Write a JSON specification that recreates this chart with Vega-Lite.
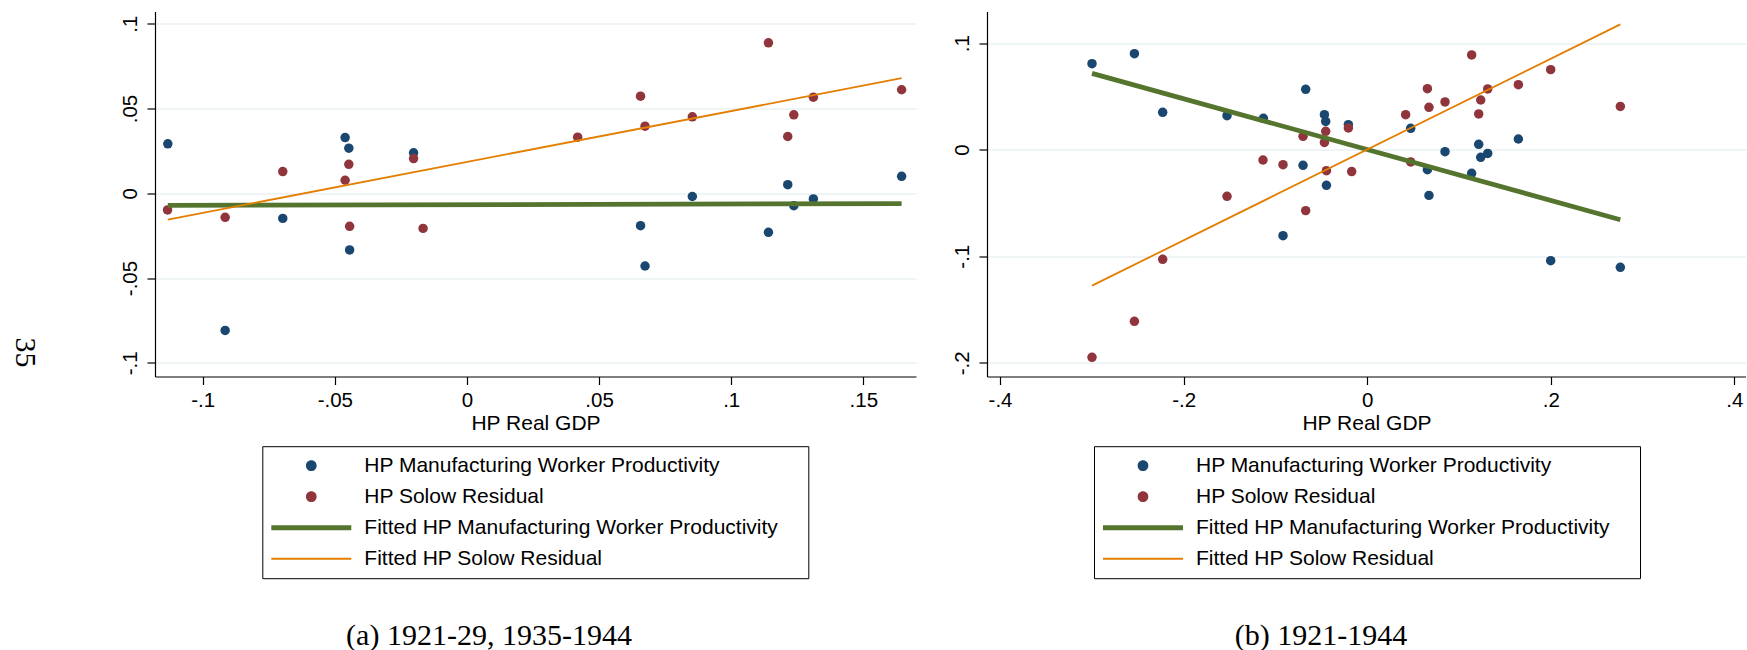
{
  "$schema": "https://vega.github.io/schema/vega-lite/v6.json",
  "background": "white",
  "padding": {"left": 9, "top": 11.5, "right": 0, "bottom": 0},
  "autosize": {"type": "pad"},
  "datasets": {
    "a_pts": [
      {"series": "HP Manufacturing Worker Productivity", "x": -0.1132, "y": 0.0292},
      {"series": "HP Manufacturing Worker Productivity", "x": -0.0915, "y": -0.0809},
      {"series": "HP Manufacturing Worker Productivity", "x": -0.0697, "y": -0.0148},
      {"series": "HP Manufacturing Worker Productivity", "x": -0.0461, "y": 0.0329},
      {"series": "HP Manufacturing Worker Productivity", "x": -0.0447, "y": 0.0266},
      {"series": "HP Manufacturing Worker Productivity", "x": -0.0444, "y": -0.0334},
      {"series": "HP Manufacturing Worker Productivity", "x": -0.0202, "y": 0.0239},
      {"series": "HP Manufacturing Worker Productivity", "x": 0.0657, "y": -0.0191},
      {"series": "HP Manufacturing Worker Productivity", "x": 0.0674, "y": -0.0429},
      {"series": "HP Manufacturing Worker Productivity", "x": 0.0853, "y": -0.0019},
      {"series": "HP Manufacturing Worker Productivity", "x": 0.1141, "y": -0.0230},
      {"series": "HP Manufacturing Worker Productivity", "x": 0.1214, "y": 0.0051},
      {"series": "HP Manufacturing Worker Productivity", "x": 0.1237, "y": -0.0073},
      {"series": "HP Manufacturing Worker Productivity", "x": 0.1311, "y": -0.0033},
      {"series": "HP Manufacturing Worker Productivity", "x": 0.1645, "y": 0.0100},
      {"series": "HP Solow Residual", "x": -0.1133, "y": -0.0098},
      {"series": "HP Solow Residual", "x": -0.0915, "y": -0.0142},
      {"series": "HP Solow Residual", "x": -0.0697, "y": 0.0128},
      {"series": "HP Solow Residual", "x": -0.0461, "y": 0.0077},
      {"series": "HP Solow Residual", "x": -0.0447, "y": 0.0171},
      {"series": "HP Solow Residual", "x": -0.0444, "y": -0.0195},
      {"series": "HP Solow Residual", "x": -0.0202, "y": 0.0205},
      {"series": "HP Solow Residual", "x": -0.0166, "y": -0.0207},
      {"series": "HP Solow Residual", "x": 0.0419, "y": 0.0331},
      {"series": "HP Solow Residual", "x": 0.0657, "y": 0.0573},
      {"series": "HP Solow Residual", "x": 0.0674, "y": 0.0396},
      {"series": "HP Solow Residual", "x": 0.0853, "y": 0.0451},
      {"series": "HP Solow Residual", "x": 0.1141, "y": 0.0888},
      {"series": "HP Solow Residual", "x": 0.1214, "y": 0.0335},
      {"series": "HP Solow Residual", "x": 0.1237, "y": 0.0463},
      {"series": "HP Solow Residual", "x": 0.1311, "y": 0.0567},
      {"series": "HP Solow Residual", "x": 0.1645, "y": 0.0611}
    ],
    "a_fit": [
      {"series": "Fitted HP Manufacturing Worker Productivity", "x": -0.1132, "y": -0.0071},
      {"series": "Fitted HP Manufacturing Worker Productivity", "x": 0.1645, "y": -0.0061},
      {"series": "Fitted HP Solow Residual", "x": -0.1132, "y": -0.0155},
      {"series": "Fitted HP Solow Residual", "x": 0.1645, "y": 0.0679}
    ],
    "b_pts": [
      {"series": "HP Manufacturing Worker Productivity", "x": -0.2998, "y": 0.0807},
      {"series": "HP Manufacturing Worker Productivity", "x": -0.2536, "y": 0.0901},
      {"series": "HP Manufacturing Worker Productivity", "x": -0.2228, "y": 0.0350},
      {"series": "HP Manufacturing Worker Productivity", "x": -0.1527, "y": 0.0319},
      {"series": "HP Manufacturing Worker Productivity", "x": -0.1131, "y": 0.0294},
      {"series": "HP Manufacturing Worker Productivity", "x": -0.0917, "y": -0.0807},
      {"series": "HP Manufacturing Worker Productivity", "x": -0.0699, "y": -0.0147},
      {"series": "HP Manufacturing Worker Productivity", "x": -0.0670, "y": 0.0566},
      {"series": "HP Manufacturing Worker Productivity", "x": -0.0466, "y": 0.0328},
      {"series": "HP Manufacturing Worker Productivity", "x": -0.0452, "y": 0.0265},
      {"series": "HP Manufacturing Worker Productivity", "x": -0.0444, "y": -0.0335},
      {"series": "HP Manufacturing Worker Productivity", "x": -0.0205, "y": 0.0235},
      {"series": "HP Manufacturing Worker Productivity", "x": 0.0474, "y": 0.0200},
      {"series": "HP Manufacturing Worker Productivity", "x": 0.0656, "y": -0.0188},
      {"series": "HP Manufacturing Worker Productivity", "x": 0.0673, "y": -0.0429},
      {"series": "HP Manufacturing Worker Productivity", "x": 0.0848, "y": -0.0019},
      {"series": "HP Manufacturing Worker Productivity", "x": 0.1138, "y": -0.0222},
      {"series": "HP Manufacturing Worker Productivity", "x": 0.1215, "y": 0.0050},
      {"series": "HP Manufacturing Worker Productivity", "x": 0.1237, "y": -0.0072},
      {"series": "HP Manufacturing Worker Productivity", "x": 0.1313, "y": -0.0035},
      {"series": "HP Manufacturing Worker Productivity", "x": 0.1647, "y": 0.0100},
      {"series": "HP Manufacturing Worker Productivity", "x": 0.1999, "y": -0.1042},
      {"series": "HP Manufacturing Worker Productivity", "x": 0.2758, "y": -0.1104},
      {"series": "HP Solow Residual", "x": -0.2998, "y": -0.1949},
      {"series": "HP Solow Residual", "x": -0.2536, "y": -0.1611},
      {"series": "HP Solow Residual", "x": -0.2228, "y": -0.1029},
      {"series": "HP Solow Residual", "x": -0.1527, "y": -0.0438},
      {"series": "HP Solow Residual", "x": -0.1135, "y": -0.0097},
      {"series": "HP Solow Residual", "x": -0.0917, "y": -0.0141},
      {"series": "HP Solow Residual", "x": -0.0699, "y": 0.0125},
      {"series": "HP Solow Residual", "x": -0.0670, "y": -0.0572},
      {"series": "HP Solow Residual", "x": -0.0466, "y": 0.0068},
      {"series": "HP Solow Residual", "x": -0.0452, "y": 0.0172},
      {"series": "HP Solow Residual", "x": -0.0444, "y": -0.0197},
      {"series": "HP Solow Residual", "x": -0.0205, "y": 0.0204},
      {"series": "HP Solow Residual", "x": -0.0169, "y": -0.0206},
      {"series": "HP Solow Residual", "x": 0.0419, "y": 0.0328},
      {"series": "HP Solow Residual", "x": 0.0474, "y": -0.0115},
      {"series": "HP Solow Residual", "x": 0.0656, "y": 0.0572},
      {"series": "HP Solow Residual", "x": 0.0673, "y": 0.0397},
      {"series": "HP Solow Residual", "x": 0.0848, "y": 0.0448},
      {"series": "HP Solow Residual", "x": 0.1138, "y": 0.0889},
      {"series": "HP Solow Residual", "x": 0.1215, "y": 0.0335},
      {"series": "HP Solow Residual", "x": 0.1237, "y": 0.0466},
      {"series": "HP Solow Residual", "x": 0.1313, "y": 0.0570},
      {"series": "HP Solow Residual", "x": 0.1647, "y": 0.0610},
      {"series": "HP Solow Residual", "x": 0.1999, "y": 0.0751},
      {"series": "HP Solow Residual", "x": 0.2758, "y": 0.0406}
    ],
    "b_fit": [
      {"series": "Fitted HP Manufacturing Worker Productivity", "x": -0.2998, "y": 0.0716},
      {"series": "Fitted HP Manufacturing Worker Productivity", "x": 0.2758, "y": -0.0657},
      {"series": "Fitted HP Solow Residual", "x": -0.2998, "y": -0.1276},
      {"series": "Fitted HP Solow Residual", "x": 0.2758, "y": 0.1176}
    ]
  },
  "hconcat": [
    {
      "width": 761,
      "height": 365,
      "title": {"text": "(a) 1921-29, 1935-1944", "orient": "bottom", "frame": "group", "anchor": "middle", "font": "Liberation Serif", "fontSize": 30, "fontWeight": "normal", "color": "#000", "baseline": "alphabetic", "offset": 66, "dx": -46.5},
      "encoding": {
        "x": {"field": "x", "type": "quantitative", "scale": {"domain": [-0.11805, 0.16994], "nice": false, "zero": false},
              "axis": {"title": "HP Real GDP", "values": [-0.1, -0.05, 0, 0.05, 0.1, 0.15], "labelExpr": "(datum.value < 0 ? '-' : '') + replace(format(abs(datum.value), '.2~f'), '0.', '.')"}},
        "y": {"field": "y", "type": "quantitative", "scale": {"domain": [-0.10809, 0.10726], "nice": false, "zero": false},
              "axis": {"title": "35", "titleFont": "Liberation Serif", "titleFontSize": 30, "titleAngle": 90, "titleX": -131, "titleY": 340.5, "titleAlign": "center", "titleBaseline": "middle", "values": [-0.1, -0.05, 0, 0.05, 0.1], "labelExpr": "(datum.value < 0 ? '-' : '') + replace(format(abs(datum.value), '.2~f'), '0.', '.')"}},
        "color": {"field": "series", "type": "nominal",
          "scale": {"domain": ["HP Manufacturing Worker Productivity", "HP Solow Residual", "Fitted HP Manufacturing Worker Productivity", "Fitted HP Solow Residual"], "range": ["#1a476f", "#90353b", "#55752f", "#e37e00"]},
          "legend": {"orient": "none", "legendX": 107.3, "legendY": 434.7, "direction": "vertical", "title": null,
            "strokeColor": "#000", "fillColor": "#fff", "padding": 9, "symbolSize": 400, "symbolStrokeWidth": 0, "symbolOffset": 29.5,
            "labelFont": "Liberation Sans", "labelFontSize": 21, "labelColor": "#000", "labelOffset": 42.5, "rowPadding": 9, "labelLimit": 1000,
            "encode": {"symbols": {"update": {
              "shape": {"signal": "datum.value === 'Fitted HP Manufacturing Worker Productivity' ? 'M-4,-0.25H4V0.25H-4Z' : datum.value === 'Fitted HP Solow Residual' ? 'M-4,-0.1H4V0.1H-4Z' : 'M-4,0H48.8M-0.535,0A0.535,0.535,0,1,1,0.535,0A0.535,0.535,0,1,1,-0.535,0Z'"},
              "fill": {"signal": "datum.value === 'HP Manufacturing Worker Productivity' ? '#1a476f' : datum.value === 'HP Solow Residual' ? '#90353b' : datum.value === 'Fitted HP Manufacturing Worker Productivity' ? '#55752f' : '#e37e00'"},
              "stroke": {"value": "transparent"},
              "strokeWidth": {"value": 0},
              "opacity": {"value": 1}
            }}}
          }}
      },
      "layer": [
        {"data": {"name": "a_pts"}, "mark": {"type": "point", "shape": "circle", "filled": true, "size": 90, "opacity": 1, "strokeWidth": 0}},
        {"data": {"name": "a_fit"}, "transform": [{"filter": "datum.series === 'Fitted HP Manufacturing Worker Productivity'"}], "mark": {"type": "line", "strokeWidth": 4.7}},
        {"data": {"name": "a_fit"}, "transform": [{"filter": "datum.series === 'Fitted HP Solow Residual'"}], "mark": {"type": "line", "strokeWidth": 1.8}}
      ]
    },
    {
      "width": 759,
      "height": 365,
      "title": {"text": "(b) 1921-1944", "orient": "bottom", "frame": "group", "anchor": "middle", "font": "Liberation Serif", "fontSize": 30, "fontWeight": "normal", "color": "#000", "baseline": "alphabetic", "offset": 66, "dx": -45.5},
      "encoding": {
        "x": {"field": "x", "type": "quantitative", "scale": {"domain": [-0.4142, 0.4127], "nice": false, "zero": false},
              "axis": {"title": "HP Real GDP", "values": [-0.4, -0.2, 0, 0.2, 0.4], "labelExpr": "(datum.value < 0 ? '-' : '') + replace(format(abs(datum.value), '.2~f'), '0.', '.')"}},
        "y": {"field": "y", "type": "quantitative", "scale": {"domain": [-0.21286, 0.12965], "nice": false, "zero": false},
              "axis": {"title": null, "values": [-0.2, -0.1, 0, 0.1], "labelExpr": "(datum.value < 0 ? '-' : '') + replace(format(abs(datum.value), '.2~f'), '0.', '.')"}},
        "color": {"field": "series", "type": "nominal",
          "scale": {"domain": ["HP Manufacturing Worker Productivity", "HP Solow Residual", "Fitted HP Manufacturing Worker Productivity", "Fitted HP Solow Residual"], "range": ["#1a476f", "#90353b", "#55752f", "#e37e00"]},
          "legend": {"orient": "none", "legendX": 107, "legendY": 434.7, "direction": "vertical", "title": null,
            "strokeColor": "#000", "fillColor": "#fff", "padding": 9, "symbolSize": 400, "symbolStrokeWidth": 0, "symbolOffset": 29.5,
            "labelFont": "Liberation Sans", "labelFontSize": 21, "labelColor": "#000", "labelOffset": 42.5, "rowPadding": 9, "labelLimit": 1000,
            "encode": {"symbols": {"update": {
              "shape": {"signal": "datum.value === 'Fitted HP Manufacturing Worker Productivity' ? 'M-4,-0.25H4V0.25H-4Z' : datum.value === 'Fitted HP Solow Residual' ? 'M-4,-0.1H4V0.1H-4Z' : 'M-4,0H48.8M-0.535,0A0.535,0.535,0,1,1,0.535,0A0.535,0.535,0,1,1,-0.535,0Z'"},
              "fill": {"signal": "datum.value === 'HP Manufacturing Worker Productivity' ? '#1a476f' : datum.value === 'HP Solow Residual' ? '#90353b' : datum.value === 'Fitted HP Manufacturing Worker Productivity' ? '#55752f' : '#e37e00'"},
              "stroke": {"value": "transparent"},
              "strokeWidth": {"value": 0},
              "opacity": {"value": 1}
            }}}
          }}
      },
      "layer": [
        {"data": {"name": "b_pts"}, "mark": {"type": "point", "shape": "circle", "filled": true, "size": 90, "opacity": 1, "strokeWidth": 0}},
        {"data": {"name": "b_fit"}, "transform": [{"filter": "datum.series === 'Fitted HP Manufacturing Worker Productivity'"}], "mark": {"type": "line", "strokeWidth": 4.7}},
        {"data": {"name": "b_fit"}, "transform": [{"filter": "datum.series === 'Fitted HP Solow Residual'"}], "mark": {"type": "line", "strokeWidth": 1.8}}
      ]
    }
  ],
  "spacing": 71,
  "bounds": "flush",
  "resolve": {"scale": {"color": "independent"}, "legend": {"color": "independent"}},
  "config": {
    "view": {"stroke": null},
    "font": "Liberation Sans",
    "axis": {
      "domainColor": "#000", "domainWidth": 1.2, "tickColor": "#000", "tickWidth": 1.2, "tickSize": 8,
      "labelFont": "Liberation Sans", "labelFontSize": 20.5, "labelColor": "#000",
      "titleFont": "Liberation Sans", "titleFontSize": 21, "titleFontWeight": "normal", "titleColor": "#000",
      "gridColor": "#eaf2f3", "gridWidth": 1.3, "labelOverlap": false, "labelFlush": false
    },
    "axisX": {"grid": false, "labelPadding": 6, "titlePadding": 1, "labelBaseline": "top"},
    "axisY": {"grid": true, "labelAngle": -90, "labelAlign": "center", "labelBaseline": "alphabetic", "labelPadding": 11}
  }
}
